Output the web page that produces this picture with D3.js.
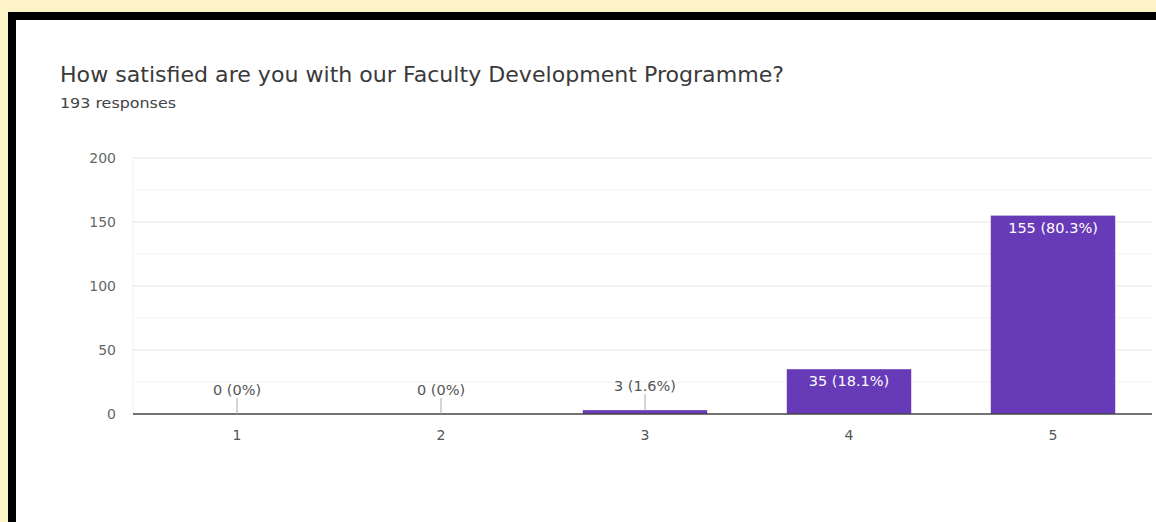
<!DOCTYPE html>
<html><head><meta charset="utf-8">
<script src="https://cdn.jsdelivr.net/npm/d3@7"></script>
<style>html,body{margin:0;padding:0;background:#fdf3c9;overflow:hidden}</style>
</head><body>
<script>
const categories = ["1","2","3","4","5"];
const values = [0,0,3,35,155];
const labels = ["0 (0%)","0 (0%)","3 (1.6%)","35 (18.1%)","155 (80.3%)"];
const yTicks = [0,50,100,150,200];
const minorTicks = [25,75,125,175];
const title = "How satisfied are you with our Faculty Development Programme?";
const subtitle = "193 responses";

const W=1156,H=522;
const svg=d3.select("body").append("svg").attr("width",W).attr("height",H);
svg.append("rect").attr("x",0).attr("y",0).attr("width",W).attr("height",H).attr("fill","#fdf3c9");
svg.append("rect").attr("x",8).attr("y",12).attr("width",W).attr("height",H).attr("fill","#000");
svg.append("rect").attr("x",16).attr("y",20).attr("width",W).attr("height",H).attr("fill","#fff");

const font="'DejaVu Sans', Verdana, sans-serif";
svg.append("text").attr("x",60).attr("y",82).attr("font-family",font).attr("font-size",21)
  .attr("textLength",724).attr("lengthAdjust","spacingAndGlyphs")
  .attr("fill","#3a3a3a").text(title);
svg.append("text").attr("x",60).attr("y",108).attr("font-family",font).attr("font-size",13.5)
  .attr("textLength",116).attr("lengthAdjust","spacingAndGlyphs")
  .attr("fill","#444").text(subtitle);

const x=d3.scaleBand().domain(categories).range([135,1155]).paddingInner(0.39).paddingOuter(0.195);
const y=d3.scaleLinear().domain([0,200]).range([414,158]);

const g=svg.append("g");
g.selectAll(".minor").data(minorTicks).join("line")
  .attr("x1",133).attr("x2",1152).attr("y1",d=>y(d)).attr("y2",d=>y(d))
  .attr("stroke","#f3f3f3").attr("stroke-width",1);
g.selectAll(".major").data(yTicks.filter(d=>d>0)).join("line")
  .attr("x1",133).attr("x2",1152).attr("y1",d=>y(d)).attr("y2",d=>y(d))
  .attr("stroke","#e6e6e6").attr("stroke-width",1);
g.append("line").attr("x1",133).attr("x2",133).attr("y1",y(200)).attr("y2",y(0)).attr("stroke","#f0f0f0");

const yAxis=d3.axisLeft(y).tickValues(yTicks).tickSize(0).tickPadding(0);
const ya=svg.append("g").attr("transform","translate(116,0)").call(yAxis);
ya.select(".domain").remove();
ya.selectAll("text").attr("font-family",font).attr("font-size",14).attr("fill","#666");

g.selectAll(".bar").data(values).join("rect")
  .attr("x",(d,i)=>x(categories[i])).attr("width",x.bandwidth())
  .attr("y",d=>y(d)).attr("height",d=>y(0)-y(d)).attr("fill","#673ab7");

g.append("line").attr("x1",133).attr("x2",1152).attr("y1",y(0)).attr("y2",y(0))
  .attr("stroke","#444").attr("stroke-width",1.5);

const xAxis=d3.axisBottom(x).tickSize(0).tickPadding(0);
const xa=svg.append("g").attr("transform",`translate(0,${y(0)+26})`).call(xAxis);
xa.select(".domain").remove();
xa.selectAll("text").attr("font-family",font).attr("font-size",14).attr("fill","#555").attr("dy","0");

values.forEach((v,i)=>{
  const cx=x(categories[i])+x.bandwidth()/2;
  const inside = (y(0)-y(v))>20;
  if(inside){
    svg.append("text").attr("x",cx).attr("y",y(v)+17).attr("text-anchor","middle")
      .attr("font-family",font).attr("font-size",14.5).attr("fill","#fff").text(labels[i]);
  } else {
    svg.append("line").attr("x1",cx).attr("x2",cx).attr("y1",y(v)-16).attr("y2",y(v))
      .attr("stroke","#aaa").attr("stroke-width",1);
    svg.append("text").attr("x",cx).attr("y",y(v)-19).attr("text-anchor","middle")
      .attr("font-family",font).attr("font-size",14.5).attr("fill","#555").text(labels[i]);
  }
});
</script>
</body></html>
